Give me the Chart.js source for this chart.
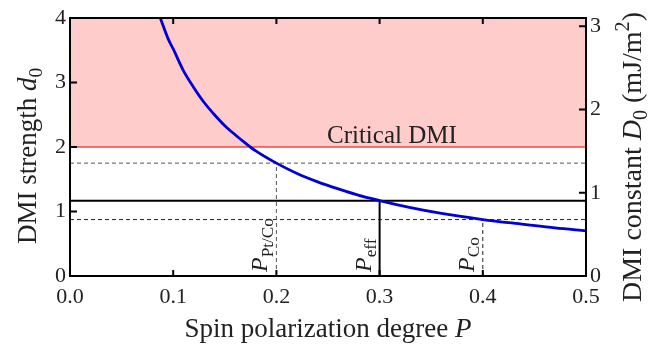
<!DOCTYPE html>
<html>
<head>
<meta charset="utf-8">
<script src="https://cdn.jsdelivr.net/npm/chart.js@4"></script>
<style>
  html, body { margin: 0; padding: 0; background: #fff; }
  #wrap { width: 658px; height: 354px; }
</style>
</head>
<body>
<div id="wrap"><canvas id="chart" width="658" height="354"></canvas></div>
<script>
const FONT = '"Liberation Serif", "DejaVu Serif", serif'
const INK = '#222'

// blue curve
const curveP = [0.0875, 0.09, 0.095, 0.1, 0.11, 0.12, 0.13, 0.14, 0.15, 0.16, 0.17, 0.18, 0.2, 0.22, 0.24, 0.26, 0.28, 0.3, 0.33, 0.36, 0.4, 0.44, 0.47, 0.5]
const curveD = [4.0, 3.89, 3.68, 3.52, 3.18, 2.92, 2.69, 2.5, 2.33, 2.19, 2.06, 1.94, 1.75, 1.59, 1.46, 1.35, 1.25, 1.17, 1.06, 0.97, 0.875, 0.80, 0.745, 0.70]

// critical DMI band
const criticalD = 2
const xRange = [0, 0.5]
const yRange = [0, 4]
const y2Range = [0, 3.1]

// marked polarizations: Pt/Co, eff, Co
const markerP = [0.2, 0.3, 0.4]
const markerD = [1.75, 1.167, 0.875]
const markerNames = ['Pt/Co', 'eff', 'Co']

const xTicks = [0.1, 0.2, 0.3, 0.4]
const yTicks = [1, 2, 3]
const y2Ticks = [1, 2, 3]

const hLine = (d) => [{ x: xRange[0], y: d }, { x: xRange[1], y: d }]
const vLine = (p, d) => [{ x: p, y: 0 }, { x: p, y: d }]

const markerStyle = [
  { color: '#555', width: 1, dash: [4, 3] },
  { color: '#000', width: 2, dash: [] },
  { color: '#222', width: 1, dash: [4, 3] },
]

const datasets = [{
  label: 'critical',
  data: hLine(criticalD),
  borderColor: '#e00000',
  borderWidth: 1.2,
  backgroundColor: '#ffcccc',
  fill: 'end',
  pointRadius: 0,
  order: 10,
}]

markerP.forEach((p, i) => {
  const s = markerStyle[i]
  datasets.push({
    data: hLine(markerD[i]),
    borderColor: s.color, borderWidth: s.width, borderDash: s.dash,
    pointRadius: 0, fill: false, order: 5,
  })
  datasets.push({
    data: vLine(p, markerD[i]),
    borderColor: s.color, borderWidth: s.width, borderDash: s.dash,
    pointRadius: 0, fill: false, order: 5,
  })
})

datasets.push({
  label: 'd0',
  data: curveP.map((p, i) => ({ x: p, y: curveD[i] })),
  borderColor: '#0000d0',
  borderWidth: 2.8,
  pointRadius: 0,
  fill: false,
  cubicInterpolationMode: 'monotone',
  order: 0,
})

function drawRich(ctx, parts, x, y, size, align, angle) {
  ctx.save()
  ctx.translate(x, y)
  ctx.rotate(angle || 0)
  const fontFor = (p) => `${p.i ? 'italic ' : ''}${p.sub || p.sup ? size * 0.72 : size}px ${FONT}`
  let w = 0
  parts.forEach(p => { ctx.font = fontFor(p); w += ctx.measureText(p.t).width })
  let cx = align === 'center' ? -w / 2 : align === 'right' ? -w : 0
  ctx.fillStyle = INK
  ctx.textBaseline = 'alphabetic'
  ctx.textAlign = 'left'
  parts.forEach(p => {
    ctx.font = fontFor(p)
    const dy = p.sub ? size * 0.22 : p.sup ? -size * 0.42 : 0
    ctx.fillText(p.t, cx, dy)
    cx += ctx.measureText(p.t).width
  })
  ctx.restore()
}

const decor = {
  id: 'decor',
  afterDatasetsDraw(chart) {
    const { ctx, chartArea: a, scales } = chart
    const { x, y, y2 } = scales
    ctx.save()
    ctx.strokeStyle = '#000'
    ctx.lineWidth = 2
    ctx.strokeRect(a.left, a.top, a.right - a.left, a.bottom - a.top)
    ctx.beginPath()
    xTicks.forEach(v => {
      const px = x.getPixelForValue(v)
      ctx.moveTo(px, a.bottom); ctx.lineTo(px, a.bottom - 6)
      ctx.moveTo(px, a.top); ctx.lineTo(px, a.top + 6)
    })
    yTicks.forEach(v => {
      const py = y.getPixelForValue(v)
      ctx.moveTo(a.left, py); ctx.lineTo(a.left + 7, py)
    })
    y2Ticks.forEach(v => {
      const py = y2.getPixelForValue(v)
      ctx.moveTo(a.right, py); ctx.lineTo(a.right - 7, py)
    })
    ctx.stroke()
    ctx.restore()

    // marker labels, rotated
    const base = y.getPixelForValue(0) - 4
    markerP.forEach((p, i) => {
      drawRich(ctx, [{ t: 'P', i: true }, { t: markerNames[i], sub: true }],
        x.getPixelForValue(p) - 9, base, 24, 'left', -Math.PI / 2)
    })

    ctx.save()
    ctx.font = `25px ${FONT}`
    ctx.fillStyle = INK
    ctx.textAlign = 'left'
    ctx.fillText('Critical DMI', x.getPixelForValue(0.249), y.getPixelForValue(criticalD) - 4)
    ctx.restore()

    // axis titles
    drawRich(ctx, [{ t: 'Spin polarization degree ' }, { t: 'P', i: true }],
      (a.left + a.right) / 2, 337, 27, 'center', 0)
    drawRich(ctx, [{ t: 'DMI strength ' }, { t: 'd', i: true }, { t: '0', sub: true }],
      36, 156, 27, 'center', -Math.PI / 2)
    drawRich(ctx, [{ t: 'DMI constant ' }, { t: 'D', i: true }, { t: '0', sub: true },
      { t: ' (mJ/m' }, { t: '2', sup: true }, { t: ')' }],
      641, 157, 28, 'center', -Math.PI / 2)
  },
}

const tickFont = { family: FONT, size: 22 }

new Chart(document.getElementById('chart'), {
  type: 'line',
  data: { datasets },
  plugins: [decor],
  options: {
    responsive: false,
    animation: false,
    parsing: false,
    layout: { padding: { top: 18, right: 0, left: 0, bottom: 0 } },
    plugins: { legend: { display: false }, tooltip: { enabled: false } },
    scales: {
      x: {
        type: 'linear', min: xRange[0], max: xRange[1],
        grid: { display: false, drawTicks: false },
        border: { display: false },
        ticks: { stepSize: 0.1, font: tickFont, color: INK, padding: 8, maxRotation: 0,
          callback: v => v.toFixed(1) },
        afterFit: s => { s.height = 78 },
      },
      y: {
        min: yRange[0], max: yRange[1],
        grid: { display: false, drawTicks: false },
        border: { display: false },
        ticks: { stepSize: 1, font: tickFont, color: INK, padding: 4 },
        afterFit: s => { s.width = 70 },
      },
      y2: {
        position: 'right', min: y2Range[0], max: y2Range[1],
        grid: { display: false, drawTicks: false },
        border: { display: false },
        ticks: { stepSize: 1, includeBounds: false, font: tickFont, color: INK, padding: 4 },
        afterFit: s => { s.width = 72 },
      },
    },
  },
})
</script>
</body>
</html>
